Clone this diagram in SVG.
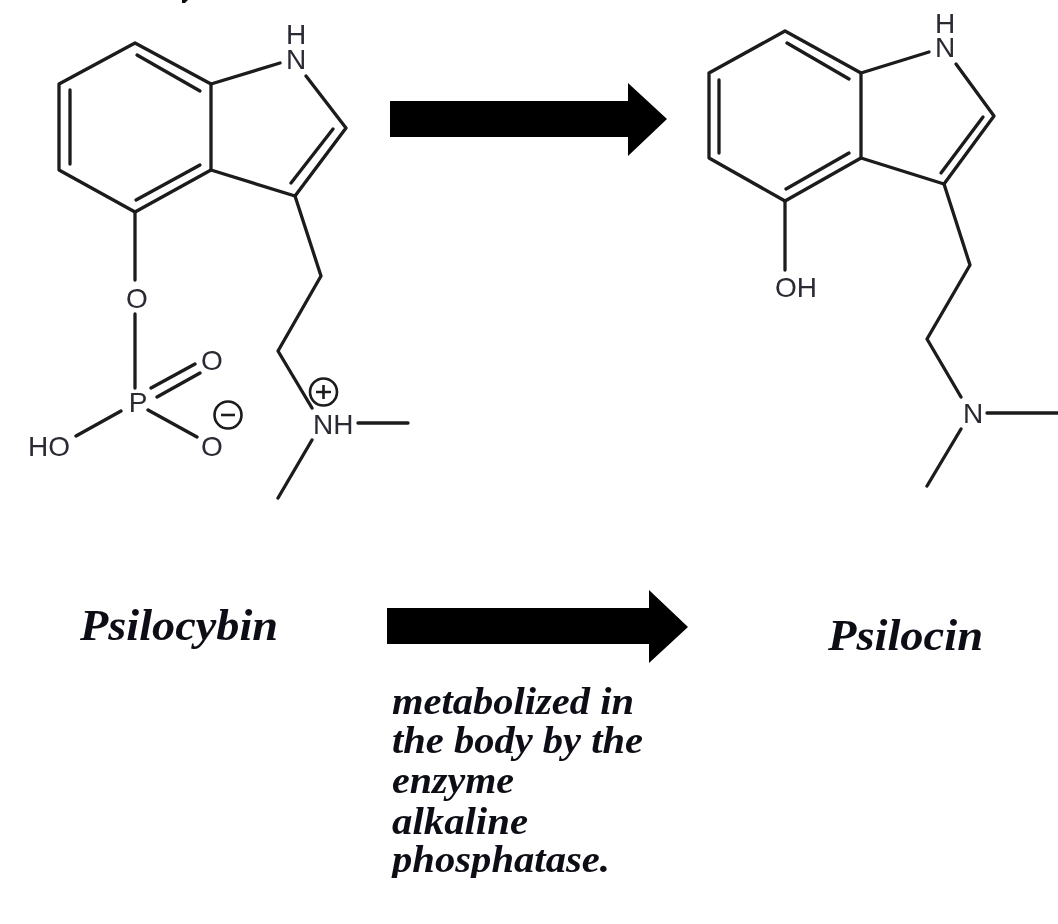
<svg xmlns="http://www.w3.org/2000/svg" width="1058" height="924" viewBox="0 0 1058 924">
<style>
.b{stroke:#1a1a1a;stroke-width:3.3;fill:none;stroke-linecap:round;stroke-linejoin:round}
.c{stroke:#1a1a1a;stroke-width:2.6;fill:none}
.a{font-family:"Liberation Sans",Arial,sans-serif;font-size:28px;fill:#2a2a33}
.t{font-family:"Liberation Serif","Times New Roman",serif;font-weight:bold;font-style:italic;fill:#0a0a14}
.s{font-size:37px}
.m{font-size:44px}
</style>
<defs><filter id="soft" x="-2%" y="-2%" width="104%" height="104%"><feGaussianBlur stdDeviation="0.55"/></filter></defs>
<rect width="1058" height="924" fill="#fff"/>
<g filter="url(#soft)">
<path d="M182 0h6l-3 3h-3z" fill="#111"/>
<g id="psilocybin-bonds">
<path class="b" d="M135 43L59 84V170L135 212L211 170V84Z"/>
<path class="b" d="M137 55L200 91M70 90V164M136 200L200 165"/>
<path class="b" d="M211 84L280 63M306 76L346 128L295 196L211 170M333 129L291 183"/>
<path class="b" d="M295 196L321 276L278 351L312 408M358 423H408M312 440L278 498"/>
<path class="b" d="M135 212V280M135 314V388M151 388L195 364M157 397L200 373M148 410L197 437M76 436L121 411"/>
</g>
<g id="psilocybin-atoms">
<text class="a" x="296" y="44" text-anchor="middle">H</text>
<text class="a" x="296" y="69" text-anchor="middle">N</text>
<text class="a" x="137" y="308" text-anchor="middle">O</text>
<text class="a" x="138" y="412" text-anchor="middle">P</text>
<text class="a" x="212" y="370" text-anchor="middle">O</text>
<text class="a" x="212" y="456" text-anchor="middle">O</text>
<text class="a" x="28" y="456">HO</text>
<text class="a" x="313" y="434">NH</text>
<circle class="c" cx="323.500" cy="392" r="13.500"/>
<path class="c" d="M316 392H331M323.500 385V399"/>
<circle class="c" cx="228" cy="415" r="13.500"/>
<path class="c" d="M221 415H235"/>
</g>
<g id="psilocin-bonds">
<path class="b" d="M785 31L709 73V158L785 201L861 158V73Z"/>
<path class="b" d="M787 43L849 79M719 80V153M786 189L849 153"/>
<path class="b" d="M861 73L929 52M956 64L994 116L944 184L861 158M983 117L941 173"/>
<path class="b" d="M944 184L970 265L927 339L961 397M987 413H1058M961 429L927 486M785 201V270"/>
</g>
<g id="psilocin-atoms">
<text class="a" x="945" y="33" text-anchor="middle">H</text>
<text class="a" x="945" y="57" text-anchor="middle">N</text>
<text class="a" x="775" y="297">OH</text>
<text class="a" x="973" y="423" text-anchor="middle">N</text>
</g>
<g id="arrows">
<path d="M390 101H628V83L667 119L628 156V137H390Z" fill="#000"/>
<path d="M387 608H649V590L688 627L649 663V644H387Z" fill="#000"/>
</g>
<g id="labels">
<text class="t m" x="80" y="640" textLength="198" lengthAdjust="spacingAndGlyphs">Psilocybin</text>
<text class="t m" x="828" y="650" textLength="155" lengthAdjust="spacingAndGlyphs">Psilocin</text>
<text class="t s" x="392" y="714" textLength="242" lengthAdjust="spacingAndGlyphs">metabolized in</text>
<text class="t s" x="392" y="753" textLength="251" lengthAdjust="spacingAndGlyphs">the body by the</text>
<text class="t s" x="392" y="793" textLength="122" lengthAdjust="spacingAndGlyphs">enzyme</text>
<text class="t s" x="392" y="834" textLength="136" lengthAdjust="spacingAndGlyphs">alkaline</text>
<text class="t s" x="392" y="872" textLength="218" lengthAdjust="spacingAndGlyphs">phosphatase.</text>
<rect x="380" y="878" width="300" height="20" fill="#fff"/>
</g>
</g>
</svg>
